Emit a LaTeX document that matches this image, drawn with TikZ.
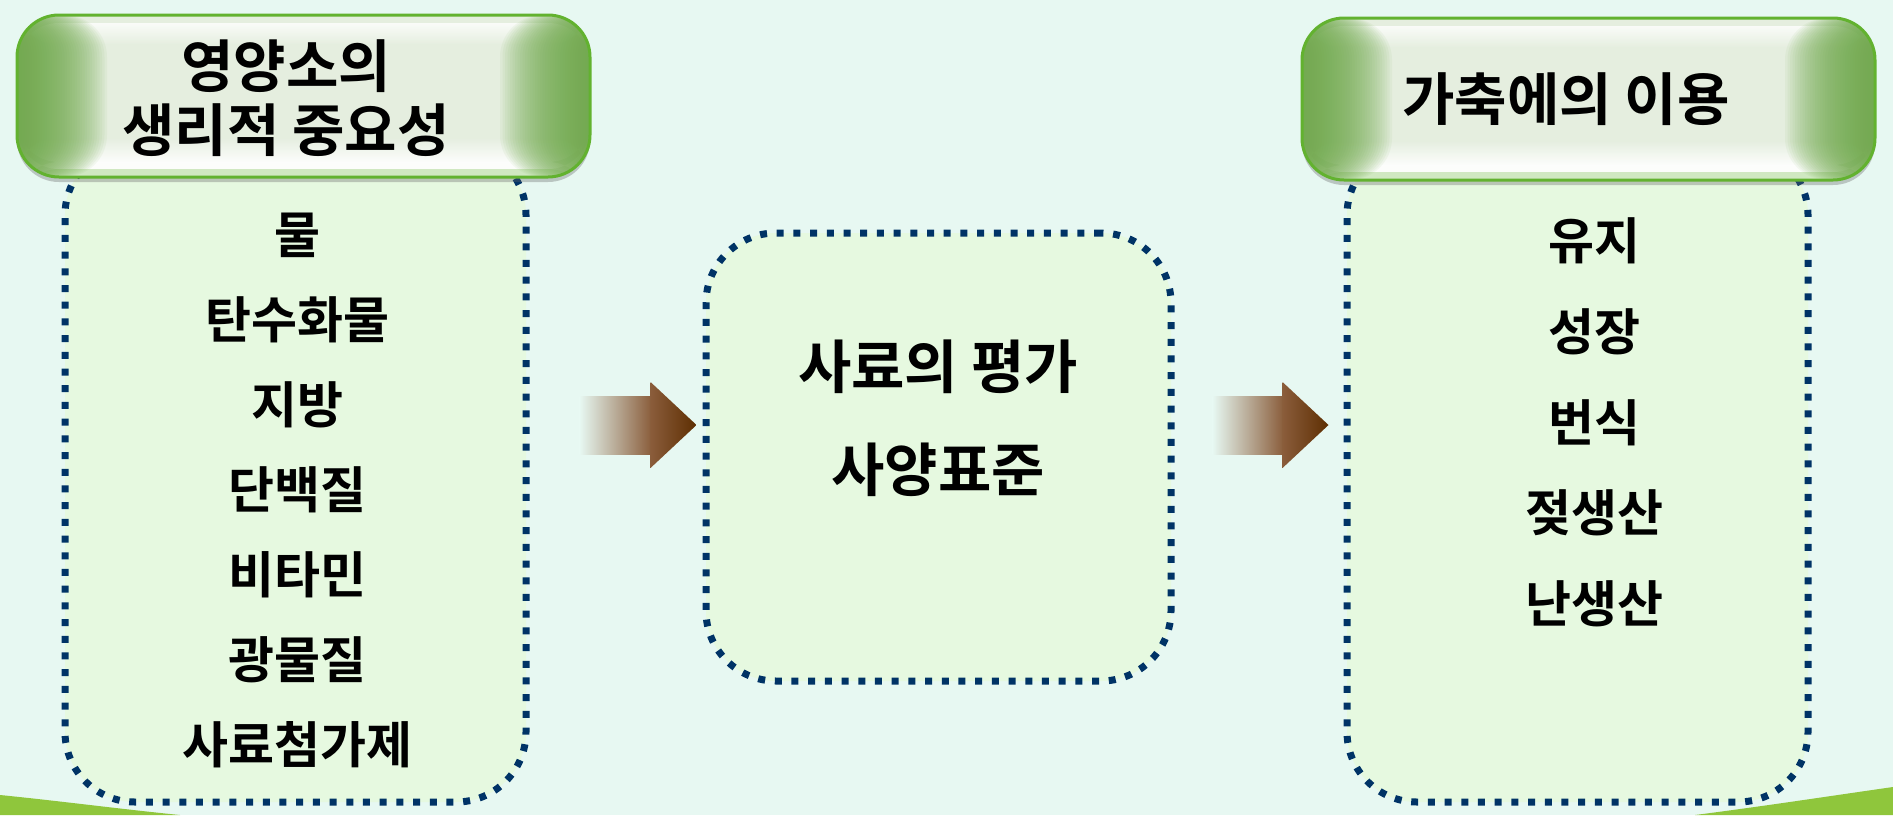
\documentclass[tikz,border=0pt]{standalone}
\usepackage{fontspec}
\setmainfont{Noto Sans CJK KR}[BoldFont={Noto Sans CJK KR Bold}]
\usetikzlibrary{calc,shadows}
\definecolor{bgc}{HTML}{E7F8F2}
\definecolor{boxfill}{HTML}{E6F9E0}
\definecolor{dotc}{HTML}{003366}
\definecolor{hdrborder}{HTML}{62B22F}
\definecolor{hdrbase}{HTML}{E5EEDF}
\definecolor{hdredge}{HTML}{6FAA4A}
\definecolor{swoosh}{HTML}{8FC63C}
\definecolor{arrowdark}{HTML}{5E2E02}
\definecolor{arrowmid}{HTML}{8A5D3B}
\newcommand\fatarrow[2]{%
  \shade[left color=bgc,right color=arrowmid] let \p1=(#1), \p2=(#2) in
    (\x1,\y1-29pt) rectangle (\x2-45pt,\y1+29pt);
  \shade[left color=arrowmid,right color=arrowdark] let \p1=(#1), \p2=(#2) in
    (\x2-46pt,\y1+43pt) -- (\x2,\y1) -- (\x2-46pt,\y1-43pt) -- cycle;
}
\begin{document}
\begin{tikzpicture}[x=1pt,y=-1pt,
  dotbox/.style={rectangle, fill=boxfill, draw=dotc, line width=7pt,
    dash pattern=on 7pt off 9.7pt, rounded corners=70pt, inner sep=0pt},
  hdr/.style={rectangle, rounded corners=42pt, minimum width=573pt, minimum height=162pt,
    inner sep=0pt, fill=hdrbase, draw=hdrborder, line width=3pt,
    drop shadow={shadow xshift=0pt, shadow yshift=-5pt, opacity=0.35, fill=black!60},
    path picture={
      \coordinate (ppsw) at (path picture bounding box.south west);
      \coordinate (ppne) at (path picture bounding box.north east);
      \coordinate (ppse) at (path picture bounding box.south east);
      \coordinate (ppnw) at (path picture bounding box.north west);
      \shade[top color=white, bottom color=hdrbase, opacity=0.8]
        ($(ppnw)+(0,8)$) rectangle ($(ppne)+(0,30)$);
      \shade[top color=hdrbase, bottom color=white, opacity=0.9]
        ($(ppsw)+(0,-40)$) rectangle ($(ppse)+(0,-15)$);
      \fill[white, opacity=0.9]
        ($(ppsw)+(0,-15)$) rectangle ($(ppse)+(0,-8)$);
      \fill[hdrborder!30!white]
        ($(ppsw)+(0,-8)$) rectangle (ppse);
      \foreach \k in {1,...,36}{
        \fill[hdredge, opacity=0.065] (ppsw) rectangle ($(ppnw)+(2.5*\k,0)$);
        \fill[hdredge, opacity=0.065] (ppse) rectangle ($(ppne)+(-2.5*\k,0)$);
      }
    }},
  hdrtext/.style={font=\bfseries\fontsize{57}{68}\selectfont, text=black, inner sep=0pt},
  midtext/.style={font=\bfseries\fontsize{58}{68}\selectfont, text=black, inner sep=0pt},
  itemtext/.style={font=\bfseries\fontsize{50}{60}\selectfont, text=black, inner sep=0pt}
]
\useasboundingbox (0,0) rectangle (1893,815);
\fill[bgc] (0,0) rectangle (1893,815);
% decorative green swooshes
\fill[swoosh] (0,795) .. controls (60,801) and (120,809) .. (180,815) -- (0,815) -- cycle;
\fill[swoosh] (1695,815) .. controls (1765,806) and (1830,796) .. (1893,787) -- (1893,815) -- cycle;
% dotted boxes
\node[dotbox, minimum width=461pt, minimum height=657pt] (lbox) at (295.5,473.5) {};
\node[dotbox, minimum width=465pt, minimum height=448pt] (mbox) at (938.5,457) {};
\node[dotbox, minimum width=461pt, minimum height=657pt] (rbox) at (1577.5,473.5) {};
% headers
\node[hdr] (lhdr) at (303.5,96) {};
\node[hdr] (rhdr) at (1588.5,99) {};
\node[hdrtext] (lhdrtxt1) at (286,66) {영양소의};
\node[hdrtext] (lhdrtxt2) at (286,130) {생리적 중요성};
\node[hdrtext] (rhdrtxt) at (1566,99) {가축에의 이용};
% left items
\foreach \t [count=\i from 0] in {물,탄수화물,지방,단백질,비타민,광물질,사료첨가제}
  \node[itemtext] (litem\i) at (297,235+85*\i) {\t};
% middle
\node[midtext] (mtxt1) at (938,367) {사료의 평가};
\node[midtext] (mtxt2) at (938,470) {사양표준};
% right items
\foreach \t [count=\i from 0] in {유지,성장,번식,젖생산,난생산}
  \node[itemtext] (ritem\i) at (1594,241+90.75*\i) {\t};
% arrows
\coordinate (arow) at (0,425);
\coordinate (a1s) at ($(lbox.east|-arow)+(50,0)$);
\coordinate (a1t) at ($(mbox.west|-arow)+(-6,0)$);
\coordinate (a2s) at ($(mbox.east|-arow)+(38,0)$);
\coordinate (a2t) at ($(rbox.west|-arow)+(-15,0)$);
\fatarrow{a1s}{a1t}
\fatarrow{a2s}{a2t}
\end{tikzpicture}
\end{document}
